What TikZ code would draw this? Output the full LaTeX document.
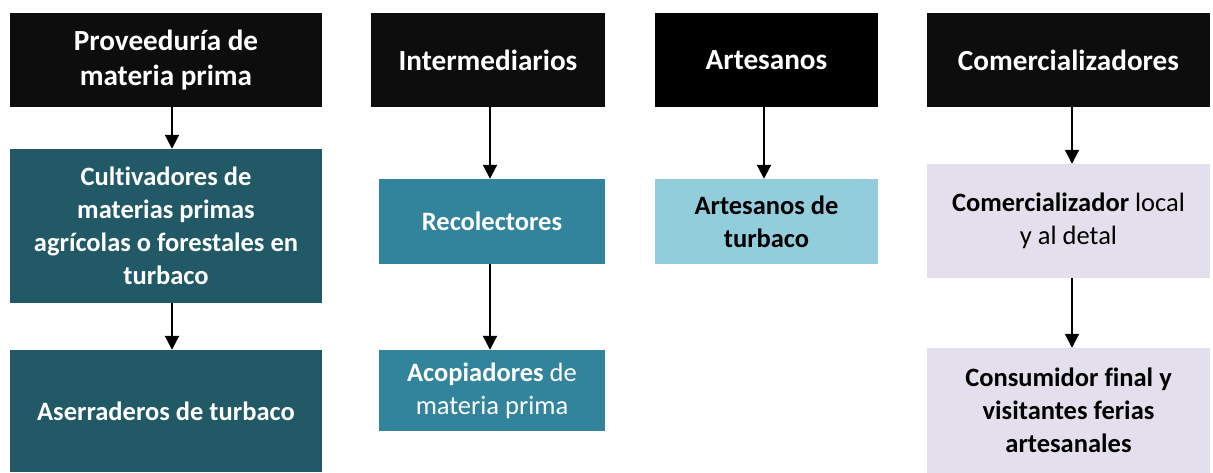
\documentclass[tikz,border=0pt]{standalone}
\usepackage{fontspec}
\setmainfont{Carlito}[Ligatures=NoCommon]
\usetikzlibrary{arrows.meta}
\definecolor{hdr}{HTML}{0D0D0D}
\definecolor{tealdark}{HTML}{215967}
\definecolor{tealmid}{HTML}{31849B}
\definecolor{lightblue}{HTML}{92CDDC}
\definecolor{lavender}{HTML}{E4DFEC}
\begin{document}
\begin{tikzpicture}[x=1pt,y=-1pt,
  box/.style={rectangle, inner sep=0pt, align=center, font=\fontsize{26.5}{33}\selectfont},
  bbox/.style={box, font=\fontsize{26.5}{33}\selectfont\bfseries},
  hbox/.style={box, fill=hdr, text=white, font=\fontsize{29.2}{35}\selectfont\bfseries},
  arr/.style={line width=2pt, -{Triangle[width=14pt,length=14pt]}}]
\useasboundingbox (0,0) rectangle (1213,473);
% column 1
\node[hbox, minimum width=312, minimum height=94] (h1) at (166,60) {Proveeduría de\\materia prima};
\node[bbox, fill=tealdark, text=white, minimum width=312, minimum height=154] (c1) at (166,226) {Cultivadores de\\materias primas\\agrícolas o forestales en\\turbaco};
\node[bbox, fill=tealdark, text=white, minimum width=312, minimum height=122] (a1) at (166,411) {Aserraderos de turbaco};
% column 2
\node[hbox, minimum width=234, minimum height=94] (h2) at (488,60) {Intermediarios};
\node[bbox, fill=tealmid, text=white, minimum width=226, minimum height=85] (r2) at (492,221.5) {Recolectores};
\node[box, fill=tealmid, text=white, minimum width=226, minimum height=81] (p2) at (492,390.5) {\textbf{Acopiadores} de\\materia prima};
% column 3
\node[hbox, fill=black, minimum width=223, minimum height=94] (h3) at (766.5,60) {Artesanos};
\node[bbox, fill=lightblue, text=black, minimum width=223, minimum height=85] (t3) at (766.5,221.5) {Artesanos de\\turbaco};
% column 4
\node[hbox, minimum width=283, minimum height=94] (h4) at (1068.5,60) {Comercializadores};
\node[box, fill=lavender, text=black, minimum width=283, minimum height=114] (m4) at (1068.5,221) {\textbf{Comercializador} local\\y al detal};
\node[bbox, fill=lavender, text=black, minimum width=283, minimum height=125] (f4) at (1068.5,410.5) {Consumidor final y\\visitantes ferias\\artesanales};
% arrows
\draw[arr] (h1.south -| 172,0) -- (c1.north -| 172,0);
\draw[arr] (c1.south -| 172,0) -- (a1.north -| 172,0);
\draw[arr] (h2.south -| 490,0) -- (r2.north -| 490,0);
\draw[arr] (r2.south -| 490,0) -- (p2.north -| 490,0);
\draw[arr] (h3.south -| 764,0) -- (t3.north -| 764,0);
\draw[arr] (h4.south -| 1072,0) -- (m4.north -| 1072,0);
\draw[arr] (m4.south -| 1072,0) -- (f4.north -| 1072,0);
\end{tikzpicture}
\end{document}
